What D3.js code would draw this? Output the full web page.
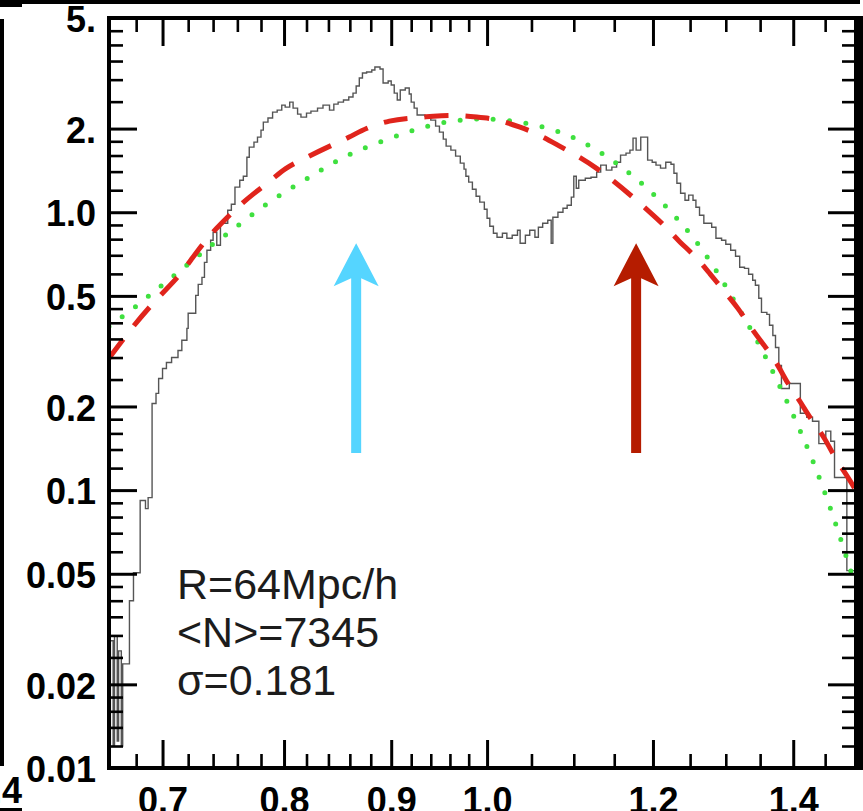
<!DOCTYPE html>
<html>
<head>
<meta charset="utf-8">
<script src="https://cdn.jsdelivr.net/npm/d3@7"></script>
<style>
  html, body { margin: 0; padding: 0; background: #ffffff; }
  svg { display: block; }
</style>
</head>
<body>
<script>
// ---- data -----------------------------------------------------------------
// Counts-in-cells histogram: left edge of each step and its level
const histEdges = [0.660,0.661,0.663,0.664,0.666,0.667,0.669,0.670,0.675,0.678,0.683,0.687,0.689,0.692,0.695,0.697,0.700,0.703,0.707,0.712,0.715,0.719,0.720,0.726,0.728,0.731,0.733,0.735,0.738,0.740,0.743,0.746,0.752,0.755,0.758,0.762,0.765,0.768,0.770,0.774,0.777,0.780,0.782,0.786,0.790,0.794,0.798,0.801,0.805,0.808,0.812,0.815,0.820,0.824,0.830,0.835,0.841,0.845,0.849,0.854,0.859,0.863,0.866,0.869,0.872,0.876,0.881,0.884,0.889,0.892,0.897,0.900,0.903,0.906,0.909,0.914,0.918,0.920,0.923,0.926,0.934,0.940,0.945,0.949,0.953,0.956,0.961,0.966,0.971,0.975,0.977,0.980,0.984,0.988,0.992,0.997,1.000,1.003,1.007,1.011,1.017,1.022,1.028,1.034,1.037,1.043,1.048,1.054,1.058,1.063,1.069,1.073,1.075,1.081,1.087,1.092,1.097,1.100,1.103,1.106,1.114,1.121,1.128,1.133,1.140,1.147,1.153,1.158,1.165,1.170,1.174,1.178,1.184,1.191,1.193,1.199,1.204,1.210,1.217,1.224,1.228,1.232,1.237,1.243,1.248,1.254,1.258,1.263,1.269,1.280,1.286,1.294,1.300,1.307,1.314,1.320,1.327,1.333,1.339,1.343,1.348,1.352,1.360,1.364,1.369,1.373,1.378,1.382,1.394,1.411,1.421,1.430,1.440,1.451,1.459,1.465,1.485];
const histLevels = [0.0120,0.0287,0.0120,0.0299,0.0125,0.0264,0.0120,0.0237,0.0400,0.0504,0.0917,0.0858,0.0940,0.205,0.223,0.252,0.274,0.288,0.300,0.318,0.346,0.382,0.433,0.502,0.550,0.583,0.660,0.730,0.793,0.847,0.761,0.913,1.017,1.069,1.231,1.304,1.348,1.578,1.715,1.788,1.863,1.975,2.110,2.182,2.293,2.331,2.430,2.390,2.491,2.370,2.255,2.200,2.274,2.312,2.370,2.430,2.331,2.450,2.491,2.533,2.597,2.684,2.845,3.040,3.169,3.195,3.249,3.331,3.276,2.917,2.965,2.869,2.684,2.533,2.752,2.798,2.662,2.491,2.370,2.237,2.218,2.146,2.041,1.942,1.833,1.729,1.673,1.592,1.502,1.429,1.348,1.283,1.210,1.142,1.087,1.025,0.951,0.890,0.840,0.813,0.840,0.806,0.826,0.861,0.773,0.826,0.861,0.813,0.883,0.913,0.936,0.773,0.959,1.000,1.034,1.060,1.133,1.348,1.220,1.304,1.326,1.337,1.394,1.477,1.417,1.453,1.514,1.605,1.632,1.673,1.848,1.673,1.863,1.863,1.540,1.514,1.477,1.441,1.514,1.489,1.382,1.272,1.171,1.105,1.152,1.105,1.042,0.975,0.913,0.883,0.806,0.793,0.767,0.730,0.694,0.634,0.628,0.598,0.569,0.546,0.490,0.436,0.429,0.392,0.360,0.326,0.281,0.232,0.242,0.189,0.183,0.177,0.147,0.163,0.150,0.111,0.0513];
const histEnd = 1.5;

// Model curve drawn dashed
const dashedX = [0.660,0.678,0.698,0.712,0.722,0.735,0.746,0.760,0.773,0.790,0.801,0.815,0.839,0.860,0.875,0.899,0.919,0.943,0.966,0.989,1.011,1.037,1.058,1.083,1.105,1.128,1.148,1.174,1.193,1.218,1.233,1.259,1.277,1.299,1.317,1.339,1.354,1.375,1.391,1.410,1.425,1.449,1.465,1.485,1.500];
const dashedY = [0.298,0.392,0.502,0.583,0.671,0.806,0.905,1.042,1.161,1.315,1.441,1.540,1.715,1.863,2.008,2.146,2.182,2.218,2.237,2.200,2.163,2.025,1.910,1.729,1.592,1.441,1.304,1.133,1.017,0.883,0.793,0.688,0.603,0.515,0.455,0.376,0.337,0.288,0.242,0.210,0.183,0.155,0.131,0.113,0.0996];

// Model curve drawn dotted
const dottedX = [0.660,0.676,0.691,0.706,0.722,0.738,0.756,0.780,0.806,0.833,0.860,0.894,0.927,0.963,1.001,1.040,1.081,1.120,1.157,1.192,1.225,1.256,1.284,1.310,1.349,1.384,1.418,1.449,1.476,1.499];
const dottedY = [0.388,0.443,0.506,0.578,0.660,0.761,0.861,1.042,1.220,1.417,1.632,1.817,2.008,2.146,2.182,2.110,1.975,1.744,1.477,1.231,1.000,0.806,0.634,0.490,0.337,0.225,0.151,0.0996,0.0658,0.0453];

// Axis ticks and their labels
const xMajor = [0.7, 0.8, 0.9, 1.0, 1.2, 1.4];
const xLabels = ["0.7", "0.8", "0.9", "1.0", "1.2", "1.4"];
const xMinor = [0.68, 0.72, 0.74, 0.76, 0.78, 0.82, 0.84, 0.86, 0.88, 0.92, 0.94, 0.96, 0.98, 1.05, 1.1, 1.15, 1.25, 1.3, 1.35, 1.45];
const yMajor = [0.01, 0.02, 0.05, 0.1, 0.2, 0.5, 1, 2, 5];
const yLabels = ["0.01", "0.02", "0.05", "0.1", "0.2", "0.5", "1.0", "2.", "5."];
const yMinor = [0.012, 0.014, 0.016, 0.018, 0.025, 0.03, 0.035, 0.04, 0.045, 0.06, 0.07, 0.08, 0.09,
                0.12, 0.14, 0.16, 0.18, 0.25, 0.3, 0.35, 0.4, 0.45, 0.6, 0.7, 0.8, 0.9,
                1.2, 1.4, 1.6, 1.8, 2.5, 3, 3.5, 4, 4.5];

// Arrow markers (x position) and their vertical extent
const arrowX = [0.866, 1.178];
const arrowColors = ["#55d5ff", "#b51c00"];
const arrowSpan = [0.136, 0.774];

// Annotation block
const annotation = ["R=64Mpc/h", "<N>=7345", "\u03c3=0.181"];

// ---- layout ---------------------------------------------------------------
const W = 863, H = 811;
const m = { left: 109, right: 856, top: 18, bottom: 768 };
const labelFont = "'Liberation Sans', Arial, Helvetica, sans-serif";

const svg = d3.select("body").append("svg").attr("width", W).attr("height", H);
svg.append("rect").attr("width", W).attr("height", H).attr("fill", "#fff");

const x = d3.scaleLog().domain([0.66, 1.5]).range([m.left, m.right]);
const y = d3.scaleLog().domain([0.01, 5]).range([m.bottom, m.top]);

svg.append("defs").append("clipPath").attr("id", "plot")
  .append("rect").attr("x", m.left).attr("y", m.top)
  .attr("width", m.right - m.left).attr("height", m.bottom - m.top);

const plot = svg.append("g").attr("clip-path", "url(#plot)");
const xy = d3.line().x(d => x(d[0])).y(d => y(d[1]));

// histogram
const histPts = histEdges.map((e, i) => [e, histLevels[i]]);
histPts.push([histEnd, histLevels[histLevels.length - 1]]);
plot.append("path")
  .attr("d", xy.curve(d3.curveStepAfter)(histPts))
  .attr("fill", "none").attr("stroke", "#555").attr("stroke-width", 1.4);

// dotted model
plot.append("path")
  .attr("d", xy.curve(d3.curveBasis)(dottedX.map((v, i) => [v, dottedY[i]])))
  .attr("fill", "none").attr("stroke", "#3fe03f").attr("stroke-width", 5)
  .attr("stroke-linecap", "round").attr("stroke-dasharray", "0 16.5");

// dashed model
plot.append("path")
  .attr("d", xy.curve(d3.curveBasis)(dashedX.map((v, i) => [v, dashedY[i]])))
  .attr("fill", "none").attr("stroke", "#e0241c").attr("stroke-width", 5)
  .attr("stroke-dasharray", "24 17");

// arrows
arrowX.forEach((ax, i) => {
  const cx = x(ax), tip = y(arrowSpan[1]), base = y(arrowSpan[0]);
  const hw = 22.5, hl = 43, notch = 35, sw = 5;
  const pts = [[cx, tip], [cx + hw, tip + hl], [cx + sw, tip + notch], [cx + sw, base],
               [cx - sw, base], [cx - sw, tip + notch], [cx - hw, tip + hl]];
  svg.append("path").attr("d", "M" + pts.map(p => p.join(",")).join("L") + "Z")
    .attr("fill", arrowColors[i]);
});

// annotation
annotation.forEach((t, i) => {
  svg.append("text").attr("x", 177).attr("y", 599 + i * 48)
    .attr("font-family", labelFont).attr("font-size", 43).attr("fill", "#1c1c1c")
    .text(t);
});

// ---- axes -----------------------------------------------------------------
function styleAxis(g, width) {
  g.select(".domain").remove();
  g.selectAll(".tick line").attr("stroke", "#000").attr("stroke-width", width);
  g.attr("font-family", labelFont).attr("font-size", 36).attr("font-weight", "bold");
  g.selectAll(".tick text").attr("fill", "#000");
}

// bottom
svg.append("g").attr("transform", `translate(0,${m.bottom})`)
  .call(d3.axisBottom(x).tickValues(xMajor).tickSizeInner(-28).tickSizeOuter(0).tickPadding(19)
    .tickFormat((d, i) => xLabels[i]))
  .call(g => styleAxis(g, 3));
svg.append("g").attr("transform", `translate(0,${m.bottom})`)
  .call(d3.axisBottom(x).tickValues(xMinor).tickSizeInner(-14).tickSizeOuter(0).tickFormat(""))
  .call(g => styleAxis(g, 2.6));
// top
svg.append("g").attr("transform", `translate(0,${m.top})`)
  .call(d3.axisTop(x).tickValues(xMajor).tickSizeInner(-28).tickSizeOuter(0).tickFormat(""))
  .call(g => styleAxis(g, 3));
svg.append("g").attr("transform", `translate(0,${m.top})`)
  .call(d3.axisTop(x).tickValues(xMinor).tickSizeInner(-14).tickSizeOuter(0).tickFormat(""))
  .call(g => styleAxis(g, 2.6));
// left
svg.append("g").attr("transform", `translate(${m.left},0)`)
  .call(d3.axisLeft(y).tickValues(yMajor).tickSizeInner(-28).tickSizeOuter(0).tickPadding(13)
    .tickFormat((d, i) => yLabels[i]))
  .call(g => styleAxis(g, 3))
  .call(g => g.selectAll(".tick text").attr("dy", "0.38em"));
svg.append("g").attr("transform", `translate(${m.left},0)`)
  .call(d3.axisLeft(y).tickValues(yMinor).tickSizeInner(-14).tickSizeOuter(0).tickFormat(""))
  .call(g => styleAxis(g, 2.6));
// right
svg.append("g").attr("transform", `translate(${m.right},0)`)
  .call(d3.axisRight(y).tickValues(yMajor).tickSizeInner(-28).tickSizeOuter(0).tickFormat(""))
  .call(g => styleAxis(g, 3));
svg.append("g").attr("transform", `translate(${m.right},0)`)
  .call(d3.axisRight(y).tickValues(yMinor).tickSizeInner(-14).tickSizeOuter(0).tickFormat(""))
  .call(g => styleAxis(g, 2.6));

// frame
svg.append("rect").attr("x", m.left).attr("y", m.top)
  .attr("width", m.right - m.left).attr("height", m.bottom - m.top)
  .attr("fill", "none").attr("stroke", "#000").attr("stroke-width", 4);
svg.append("rect").attr("x", 854).attr("y", 16).attr("width", 9).attr("height", 754).attr("fill", "#000");

// neighbouring panels at the edges of the figure
svg.append("rect").attr("x", 0).attr("y", 0).attr("width", 860).attr("height", 4).attr("fill", "#000");
svg.append("rect").attr("x", 0).attr("y", 0).attr("width", 22).attr("height", 7).attr("fill", "#000");
svg.append("line").attr("x1", 2).attr("x2", 2).attr("y1", 19).attr("y2", 766)
  .attr("stroke", "#000").attr("stroke-width", 4);
svg.append("text").attr("x", 22).attr("y", 803).attr("text-anchor", "end")
  .attr("font-family", labelFont).attr("font-size", 36).attr("font-weight", "bold").text("1.4");
svg.append("rect").attr("x", 0).attr("y", 808).attr("width", 22).attr("height", 3).attr("fill", "#000");
</script>
</body>
</html>
